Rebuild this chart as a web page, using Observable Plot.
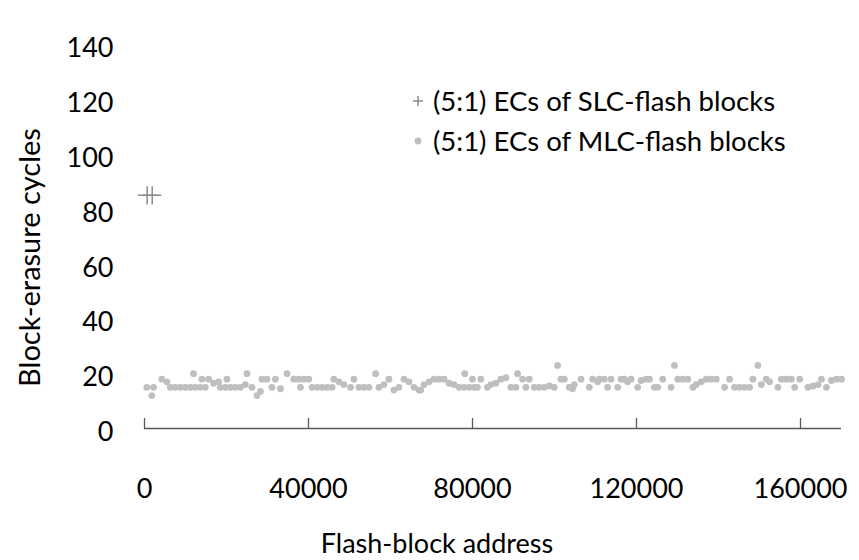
<!DOCTYPE html>
<html>
<head>
<meta charset="utf-8">
<script src="https://cdn.jsdelivr.net/npm/d3@7"></script>
<script src="https://cdn.jsdelivr.net/npm/@observablehq/plot@0.6"></script>
<style>
  body { margin: 0; background: #fff; }
  #chart { width: 859px; height: 560px; }
</style>
</head>
<body>
<div id="chart"></div>
<script>
// Erase counts of SLC-flash blocks (two hot blocks near the start of the address space)
const slcAddress = [650, 1880];
const slcCycles = [85, 85];

// Erase counts of MLC-flash blocks across the address space
const mlcAddress = [
  560, 1780, 2200, 4230, 5450, 6280, 7500, 8720, 9940, 11160, 11970, 12390, 13610, 14000, 14830,
  15640, 16860, 18080, 18500, 19720, 20110, 20940, 22160, 23380, 24600, 25000, 26220, 27440, 28270,
  28660, 29880, 31100, 31940,
  33160, 34770, 36410, 37630, 38040, 38850, 40070, 40880, 42100, 43320, 44550, 45770, 46180, 47400,
  48620, 50260, 51070, 52290, 53510, 54730, 56370, 57180, 58400, 59620, 60840, 62060, 63290, 64510,
  65730, 66950,
  67370, 68170, 69400, 70620, 71840, 73060, 74280, 75500, 76730, 77950, 78100, 79170, 79980, 80390,
  81200, 82030, 83640, 84470, 85690, 86910, 88140, 89360, 90580, 90980, 92200, 93020, 93830, 95050,
  96270, 97490, 98720, 99940, 100750, 101580,
  102380, 103600, 104410, 104830, 106460, 108490, 109300, 110520, 110930, 112160, 112960, 113790,
  115410, 116240, 117040, 117850, 118680, 120290, 121120, 122350, 123150, 124370, 125180, 126400,
  128450, 129260, 130070, 131290, 132510, 133740, 134560, 135780,
  137010, 138230, 139450, 141480, 142700, 143920, 145140, 146370, 147590, 148400, 149610, 150450,
  151670, 152470, 154500, 155330, 156550, 157780, 158580, 159800, 161830, 163050, 164270, 165110,
  166330, 167550, 168770, 170000
];
const mlcCycles = [
  15, 12, 15, 18, 17, 15, 15, 15, 15, 15, 20, 15, 15, 18, 15,
  18, 16.5, 17, 15, 15, 18, 15, 15, 15, 16, 20, 15, 12, 13.5,
  18, 18, 15, 18,
  14.5, 20, 18, 18, 15, 18, 18, 15, 15, 15, 15, 15, 18, 17,
  16, 15, 18, 15, 15, 15, 20, 15, 16, 18, 14, 15, 18, 17,
  15, 14,
  14, 16, 17, 18, 18, 18, 16.5, 16, 15, 15, 20, 15, 18, 15,
  15, 18, 15, 16, 16.5, 18, 18.5, 15, 15, 20, 18, 15, 18, 15,
  15, 15, 15.5, 15, 23, 18,
  18, 15, 14.5, 16, 18, 15, 18, 17, 18, 18, 15, 18,
  15, 18, 18, 17, 18, 15, 17.5, 18, 18, 15, 15, 18,
  15, 23, 18, 18, 18, 15, 16, 17,
  18, 18, 18, 15, 18, 15, 15, 15, 15, 18, 23, 16,
  18, 17, 15, 18, 18, 18, 15, 18, 15, 15.5, 16, 18,
  15, 17.5, 18, 18
];

const xTicks = [0, 40000, 80000, 120000, 160000];
const yTicks = [0, 20, 40, 60, 80, 100, 120, 140];
const xTitle = "Flash-block address";
const yTitle = "Block-erasure cycles";
const legendLabels = ["(5:1) ECs of SLC-flash blocks", "(5:1) ECs of MLC-flash blocks"];

const slc = slcAddress.map((a, i) => ({address: a, cycles: slcCycles[i]}));
const mlc = mlcAddress.map((a, i) => ({address: a, cycles: mlcCycles[i]}));

const font = "Lato, 'Open Sans', sans-serif";
const plusColor = "#8c8c8c";
const dotColor = "#bfbfbf";
const axisColor = "#595959";

const chart = Plot.plot({
  width: 859,
  height: 560,
  marginLeft: 144,
  marginRight: 18,
  marginTop: 44,
  marginBottom: 132,
  style: {fontFamily: font, fontSize: "27px", color: "#000", background: "#fff", overflow: "visible"},
  x: {domain: [0, 170000]},
  y: {domain: [0, 140]},
  marks: [
    Plot.axisY({ticks: yTicks, tickSize: 0, tickPadding: 31, dy: 4, label: null, fontSize: 27}),
    Plot.axisX({ticks: xTicks, tickSize: 0, tickPadding: 50, tickFormat: d => String(d), label: null, fontSize: 27}),
    Plot.tickX(xTicks, {stroke: axisColor, strokeWidth: 1.3, insetTop: 374}),
    Plot.ruleY([0], {stroke: axisColor, strokeWidth: 1.3}),
    Plot.dot(mlc, {x: "address", y: "cycles", r: 3.4, fill: dotColor, stroke: "none"}),
    Plot.dot(slc, {x: "address", y: "cycles", symbol: "plus", r: 6, stroke: plusColor, strokeWidth: 1.5}),
    Plot.text([xTitle], {frameAnchor: "bottom", lineAnchor: "middle", textAnchor: "middle", dx: -56, dy: 116, fontSize: 27}),
    Plot.text([yTitle], {frameAnchor: "left", lineAnchor: "middle", textAnchor: "middle", rotate: -90, dx: -114, dy: 21, fontSize: 29})
  ]
});

// Legend in the upper part of the plot area
const svg = d3.select(chart);
const legend = svg.append("g")
  .attr("font-family", font)
  .attr("font-size", 27.5)
  .attr("text-anchor", "start");
const symX = 418, textX = 433, rowY = [101, 141];
legend.append("path")
  .attr("d", `M${symX - 5},${rowY[0]}H${symX + 5}M${symX},${rowY[0] - 5}V${rowY[0] + 5}`)
  .attr("stroke", plusColor).attr("stroke-width", 1.5).attr("fill", "none");
legend.append("circle").attr("cx", symX).attr("cy", rowY[1]).attr("r", 3.4).attr("fill", dotColor);
legendLabels.forEach((t, i) => {
  legend.append("text")
    .attr("x", textX).attr("y", rowY[i]).attr("dy", "0.35em")
    .attr("text-anchor", "start").attr("fill", "#000").text(t);
});

document.getElementById("chart").appendChild(chart);
</script>
</body>
</html>
